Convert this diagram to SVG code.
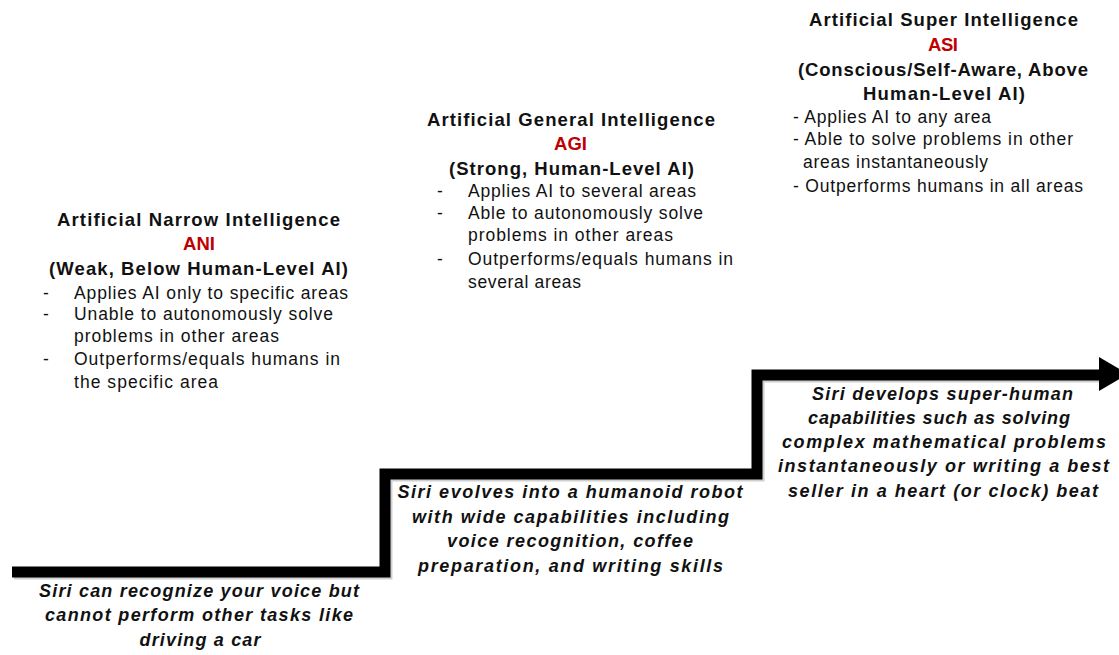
<svg xmlns="http://www.w3.org/2000/svg" width="1119" height="655" viewBox="0 0 1119 655">
<style>
text{font-family:"Liberation Sans",Arial,sans-serif;fill:#111;}
.t{font-size:18.5px;font-weight:bold;text-anchor:middle;}
.r{font-size:18.5px;font-weight:bold;text-anchor:middle;fill:#C00000;}
.b{font-size:17.5px;}
.c{font-size:18px;font-weight:bold;font-style:italic;text-anchor:middle;}
.step{fill:none;stroke:#000;stroke-width:11;stroke-linejoin:miter;}
.shadow{fill:none;stroke:#888;stroke-width:11;opacity:0.4;}
</style>
<rect width="1119" height="655" fill="#fff"/>
<g id="connectors">
<path class="shadow" d="M14,574 H387 V476 H759 V377 H1100"/>
<path class="step" d="M12,572 H385 V474 H757 V375 H1100"/>
<polygon points="1099,357 1128,374 1099,391" fill="#000"/>
</g>
<g id="ani">
<text class="t" x="198.5" y="226" textLength="283" lengthAdjust="spacing">Artificial Narrow Intelligence</text>
<text class="r" x="199" y="250" textLength="32" lengthAdjust="spacing">ANI</text>
<text class="t" x="198.5" y="275" textLength="299" lengthAdjust="spacing">(Weak, Below Human-Level AI)</text>
<text class="b" x="43" y="299">-</text><text class="b" x="74" y="299" textLength="274" lengthAdjust="spacing">Applies AI only to specific areas</text>
<text class="b" x="43" y="320">-</text><text class="b" x="74" y="320" textLength="259" lengthAdjust="spacing">Unable to autonomously solve</text>
<text class="b" x="74" y="342" textLength="205" lengthAdjust="spacing">problems in other areas</text>
<text class="b" x="43" y="365">-</text><text class="b" x="74" y="365" textLength="266" lengthAdjust="spacing">Outperforms/equals humans in</text>
<text class="b" x="74" y="388" textLength="144" lengthAdjust="spacing">the specific area</text>
</g>
<g id="agi">
<text class="t" x="571" y="126" textLength="288" lengthAdjust="spacing">Artificial General Intelligence</text>
<text class="r" x="570.5" y="150" textLength="33" lengthAdjust="spacing">AGI</text>
<text class="t" x="571.5" y="175" textLength="245" lengthAdjust="spacing">(Strong, Human-Level AI)</text>
<text class="b" x="437" y="197">-</text><text class="b" x="468" y="197" textLength="228" lengthAdjust="spacing">Applies AI to several areas</text>
<text class="b" x="437" y="219">-</text><text class="b" x="468" y="219" textLength="235" lengthAdjust="spacing">Able to autonomously solve</text>
<text class="b" x="468" y="241" textLength="205" lengthAdjust="spacing">problems in other areas</text>
<text class="b" x="437" y="265">-</text><text class="b" x="468" y="265" textLength="265" lengthAdjust="spacing">Outperforms/equals humans in</text>
<text class="b" x="468" y="288" textLength="113" lengthAdjust="spacing">several areas</text>
</g>
<g id="asi">
<text class="t" x="943.5" y="26" textLength="269" lengthAdjust="spacing">Artificial Super Intelligence</text>
<text class="r" x="943" y="51" textLength="30" lengthAdjust="spacing">ASI</text>
<text class="t" x="943" y="76" textLength="290" lengthAdjust="spacing">(Conscious/Self-Aware, Above</text>
<text class="t" x="944" y="100" textLength="162" lengthAdjust="spacing">Human-Level AI)</text>
<text class="b" x="793" y="123" textLength="198" lengthAdjust="spacing">- Applies AI to any area</text>
<text class="b" x="793" y="145" textLength="280" lengthAdjust="spacing">- Able to solve problems in other</text>
<text class="b" x="803" y="168" textLength="185" lengthAdjust="spacing">areas instantaneously</text>
<text class="b" x="793" y="192" textLength="290" lengthAdjust="spacing">- Outperforms humans in all areas</text>
</g>
<g id="caption-ani">
<text class="c" x="199" y="597" textLength="320" lengthAdjust="spacing">Siri can recognize your voice but</text>
<text class="c" x="199" y="621" textLength="308" lengthAdjust="spacing">cannot perform other tasks like</text>
<text class="c" x="200" y="646" textLength="121" lengthAdjust="spacing">driving a car</text>
</g>
<g id="caption-agi">
<text class="c" x="570" y="498" textLength="345" lengthAdjust="spacing">Siri evolves into a humanoid robot</text>
<text class="c" x="570.5" y="523" textLength="317" lengthAdjust="spacing">with wide capabilities including</text>
<text class="c" x="570" y="547" textLength="246" lengthAdjust="spacing">voice recognition, coffee</text>
<text class="c" x="570.5" y="572" textLength="305" lengthAdjust="spacing">preparation, and writing skills</text>
</g>
<g id="caption-asi">
<text class="c" x="942.5" y="400" textLength="261" lengthAdjust="spacing">Siri develops super-human</text>
<text class="c" x="939" y="424" textLength="262" lengthAdjust="spacing">capabilities such as solving</text>
<text class="c" x="944" y="448" textLength="324" lengthAdjust="spacing">complex mathematical problems</text>
<text class="c" x="943.5" y="472" textLength="331" lengthAdjust="spacing">instantaneously or writing a best</text>
<text class="c" x="943" y="497" textLength="310" lengthAdjust="spacing">seller in a heart (or clock) beat</text>
</g>
</svg>
